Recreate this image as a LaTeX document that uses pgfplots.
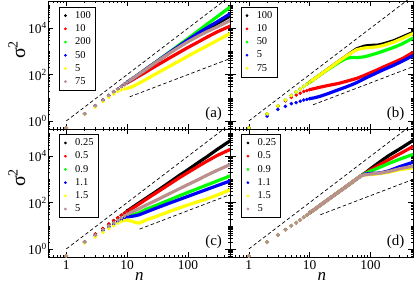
\documentclass[border=0pt]{standalone}
\usepackage{pgfplots}
\pgfplotsset{compat=1.18}
\usepackage{pgfplotstable}
\usepackage{fontspec}
\setmainfont{Liberation Serif}
\definecolor{gbrown}{RGB}{188,143,143}
\definecolor{ggreen}{RGB}{0,255,0}
\definecolor{gyellow}{RGB}{255,255,0}
\definecolor{gred}{RGB}{255,0,0}
\definecolor{gblue}{RGB}{0,0,255}

% panel (a)
\pgfplotstableread{
n k100 k10 k200 k50 k5 k75
1 0.5 0.5 0.5 0.5 0.5 0.5
2 2 2 2 2 1.95 2
3 4.5 4.5 4.5 4.5 3.98 4.5
4 8 8 8 8 6.92 8
5 12.5 12.5 12.5 12.5 10.5 12.5
6 18 18 18 18 14.5 18
7 24.0 24.0 24.0 24.0 18.6 24.0
8 30.9 30.9 30.9 30.9 21.9 30.9
9 38.5 37.2 38.5 38.5 24.0 38.5
10 46.8 43.7 46.8 46.8 25.7 46.8
12 64.1 57.5 64.1 64.1 29.5 64.1
15 95.7 81.3 95.7 95.7 39.8 95.7
20 166 125.9 166 166 60.3 162.6
30 349 239.9 357 349 109.6 341
50 885 524.8 948 906 229.1 845
70 1581 871 1816 1656 371.5 1476
100 2944 1479 3622 3155 631 2624
150 5636 2630 7962 6324 1122 4688
200 8730 3981 14160 10020 1660 6934
300 15960 6918 31120 18750 2951 11300
500 34430 12590 84530 43350 6026 22230
}\tabA

% panel (b)
\pgfplotstableread{
n k100 k10 k50 k5 k75
1 0.5 0.5 0.5 0.5 0.5
2 2 2 2 1.62 2
3 4.5 4.5 4.5 3.16 4.5
4 8 7.4 8 4.27 8
5 12.5 10.5 12.5 5.62 12.5
6 18 13.2 18 6.17 18
7 24.0 15.8 24.0 7.08 24.0
8 30.9 18.6 30.9 7.94 30.9
9 38.5 20.4 38.5 8.51 38.5
10 46.8 22.4 46.8 9.12 46.8
12 66.1 25.1 66.1 10.0 66.1
15 100 28.8 100 11.7 100
20 172.2 33.9 166 15.1 172.2
30 369 41.7 331 22.4 369
40 631 51.3 501 29.5 631
50 955 60.3 550 37.2 912
60 1318 69.2 537 45.7 1202
80 1698 93.3 589 67.6 1413
100 1820 120.2 692 89.1 1479
130 1862 162.2 851 123 1585
160 2089 208.9 1023 158.5 1778
240 2884 331.1 1479 251 2512
340 4266 501.2 2188 389 3715
500 6607 912 3802 660.7 5888
}\tabB

% panel (c)
\pgfplotstableread{
n k025 k05 k09 k11 k15 k5
1 0.5 0.5 0.5 0.5 0.5 0.5
2 2.0 2.0 1.95 1.91 1.82 1.95
3 4.37 4.37 3.89 3.72 3.31 3.98
4 7.59 7.59 6.46 6.17 5.25 6.76
5 11.75 11.75 9.33 8.91 7.59 10.0
6 16.6 16.6 12.3 11.75 10.0 13.5
7 22.4 22.4 15.5 14.8 12.6 17.4
8 28.8 28.2 19.1 17.8 14.8 21.9
9 35.5 34.7 22.9 21.4 16.6 26.3
10 43.7 41.7 26.9 24.0 17.4 31.6
12 60.3 55.0 29.5 25.7 15.8 39.8
14 79.4 70.8 33.1 27.5 13.5 47.9
16 100 89.1 37.2 30.2 13.2 56.2
20 147.9 131.8 50.1 38.0 17.4 75.9
25 218.8 195 63.1 47.9 21.4 100
30 302 263 75.9 57.5 25.1 125.9
50 758.6 631 131.8 95.5 41.7 245.5
70 1413 1122 190.5 131.8 57.5 380.2
100 2630 1995 275.4 186.2 79.4 602.6
150 5495 3802 416.9 275.4 112.2 1000
200 9120 5888 562.3 363.1 141.3 1479
300 19500 10720 851.1 537 208.9 2455
500 47860 19950 1445 871 363.1 4467
}\tabC

% panel (d)
\pgfplotstableread{
n k025 k05 k09 k11 k15 k5
1 0.5 0.5 0.5 0.5 0.5 0.5
2 1.95 1.95 1.95 1.95 1.95 1.95
3 4.07 4.07 4.07 4.07 4.07 4.07
4 6.76 6.76 6.76 6.76 6.76 6.76
5 10 10 10 10 10 10
6 13.5 13.5 13.5 13.5 13.5 13.5
7 17.8 17.8 17.8 17.8 17.8 17.8
8 23.4 23.4 23.4 23.4 23.4 23.4
9 29.5 29.5 29.5 29.5 29.5 29.5
10 36.3 36.3 36.3 36.3 36.3 36.3
12 50.1 50.1 50.1 50.1 50.1 50.1
15 77.6 77.6 77.6 77.6 77.6 77.6
20 134.9 134.9 134.9 134.9 134.9 134.9
30 288.4 288.4 288.4 288.4 288.4 288.4
50 758.6 758.6 758.6 758.6 758.6 758.6
70 1445 1445 1445 1445 1445 1445
85 2042 1950 1862 1738 1585 1622
100 2884 2570 2291 1820 1622 1698
130 4786 3802 3020 1862 1738 1820
150 6310 4677 3548 1950 1820 1905
200 10720 7079 4898 2344 2042 2188
300 20420 12590 7413 3548 2630 2884
500 47860 26300 12020 5495 3162 3715
}\tabD

\pgfplotsset{
  width=182.5bp, height=128bp, scale only axis,
  xmin=0.5, xmax=500, ymin=0.45, ymax=1.5e5,
  tick align=inside, major tick length=5bp, minor tick length=2.5bp,
  every tick/.style={black, line width=0.5pt},
  axis line style={line width=0.8pt},
  tick label style={font=\fontsize{13.5}{14}\selectfont},
  yticklabel style={inner xsep=1pt},
  legend cell align=left,
  legend style={anchor=north west, draw=black, line width=0.5pt,
    font=\fontsize{10.5}{11}\selectfont, nodes={inner ysep=2.4pt, inner xsep=1.5pt}},
  legend image code/.code={\draw[#1, mark size=1.1pt] plot coordinates {(0bp,0bp)}; \path (-3bp,0bp) (8bp,0bp);},
  dots/.style={only marks, mark=*, mark size=1.6pt, skip coords between index={10}{1000}},
  tline/.style={no marks, line width=3.2pt, line join=round, line cap=round, forget plot, skip coords between index={0}{9}},
  dsh/.style={black, line width=0.7pt, dash pattern=on 3.5bp off 2.5bp, forget plot},
}
\newcommand{\series}[4]{%
 \addplot[dots, color=#3] table[x=n,y=#2]{#1}; \addlegendentry{#4}
 \addplot[tline, color=#3] table[x=n,y=#2]{#1};
}
\newcommand{\plab}[1]{\node[anchor=east, font=\fontsize{15}{15}\selectfont] at (rel axis cs:0.972,0.115) {#1};}

\begin{document}
\begin{tikzpicture}
% (a)
\begin{axis}[xmode=log, ymode=log,
  xtick={1,10,100}, ytick={1,100,10000},
  minor xtick={0.5,0.6,0.7,0.8,0.9,2,3,4,5,6,7,8,9,20,30,40,50,60,70,80,90,200,300,400,500},
  minor ytick={0.5,0.6,0.7,0.8,0.9,2,3,4,5,6,7,8,9,10,20,30,40,50,60,70,80,90,200,300,400,500,600,700,800,900,1000,2000,3000,4000,5000,6000,7000,8000,9000,20000,30000,40000,50000,60000,70000,80000,90000,100000},
  at={(0bp,128bp)}, anchor=south west,
  xticklabels={},
  yticklabels={10\textsuperscript{0},10\textsuperscript{2},10\textsuperscript{4}},
  ylabel={\fontsize{20}{20}\selectfont σ\textsuperscript{2}},
  ylabel style={at={(axis description cs:-0.17,0.62)}, anchor=center},
  legend style={at={(0.06,0.955)}}]
\addplot[dsh] coordinates {(1,1) (500,250000)};
\addplot[dsh] coordinates {(11,11) (500,500)};
\series{\tabA}{k100}{black}{100}
\series{\tabA}{k10}{gred}{10}
\series{\tabA}{k200}{ggreen}{200}
\series{\tabA}{k50}{gblue}{50}
\series{\tabA}{k5}{gyellow}{5}
\series{\tabA}{k75}{gbrown}{75}
\plab{(a)}
\end{axis}
% (b)
\begin{axis}[xmode=log, ymode=log,
  xtick={1,10,100}, ytick={1,100,10000},
  minor xtick={0.5,0.6,0.7,0.8,0.9,2,3,4,5,6,7,8,9,20,30,40,50,60,70,80,90,200,300,400,500},
  minor ytick={0.5,0.6,0.7,0.8,0.9,2,3,4,5,6,7,8,9,10,20,30,40,50,60,70,80,90,200,300,400,500,600,700,800,900,1000,2000,3000,4000,5000,6000,7000,8000,9000,20000,30000,40000,50000,60000,70000,80000,90000,100000},
  at={(182.5bp,128bp)}, anchor=south west,
  xticklabels={}, yticklabels={},
  legend style={at={(0.055,0.955)}}]
\addplot[dsh] coordinates {(1,1) (500,250000)};
\addplot[dsh] coordinates {(11.4,5.0) (500,220)};
\series{\tabB}{k100}{black}{100}
\series{\tabB}{k10}{gred}{10}
\series{\tabB}{k50}{ggreen}{50}
\series{\tabB}{k5}{gblue}{5}
\series{\tabB}{k75}{gyellow}{75}
\plab{(b)}
\end{axis}
% (c)
\begin{axis}[xmode=log, ymode=log,
  xtick={1,10,100}, ytick={1,100,10000},
  minor xtick={0.5,0.6,0.7,0.8,0.9,2,3,4,5,6,7,8,9,20,30,40,50,60,70,80,90,200,300,400,500},
  minor ytick={0.5,0.6,0.7,0.8,0.9,2,3,4,5,6,7,8,9,10,20,30,40,50,60,70,80,90,200,300,400,500,600,700,800,900,1000,2000,3000,4000,5000,6000,7000,8000,9000,20000,30000,40000,50000,60000,70000,80000,90000,100000},
  at={(0bp,0bp)}, anchor=south west,
  yticklabels={10\textsuperscript{0},10\textsuperscript{2},10\textsuperscript{4}},
  xticklabels={1,10,100},
  ylabel={\fontsize{20}{20}\selectfont σ\textsuperscript{2}},
  ylabel style={at={(axis description cs:-0.17,0.62)}, anchor=center},
  xlabel={\fontsize{17}{17}\selectfont\itshape n},
  xlabel style={at={(axis description cs:0.5,0)}, yshift=-23bp, anchor=base},
  legend style={at={(0.06,0.96)}}]
\addplot[dsh] coordinates {(1,1) (500,250000)};
\addplot[dsh] coordinates {(16,7.2) (500,225)};
\series{\tabC}{k025}{black}{0.25}
\series{\tabC}{k05}{gred}{0.5}
\series{\tabC}{k09}{ggreen}{0.9}
\series{\tabC}{k11}{gblue}{1.1}
\series{\tabC}{k15}{gyellow}{1.5}
\series{\tabC}{k5}{gbrown}{5}
\plab{(c)}
\end{axis}
% (d)
\begin{axis}[xmode=log, ymode=log,
  xtick={1,10,100}, ytick={1,100,10000},
  minor xtick={0.5,0.6,0.7,0.8,0.9,2,3,4,5,6,7,8,9,20,30,40,50,60,70,80,90,200,300,400,500},
  minor ytick={0.5,0.6,0.7,0.8,0.9,2,3,4,5,6,7,8,9,10,20,30,40,50,60,70,80,90,200,300,400,500,600,700,800,900,1000,2000,3000,4000,5000,6000,7000,8000,9000,20000,30000,40000,50000,60000,70000,80000,90000,100000},
  at={(182.5bp,0bp)}, anchor=south west,
  xticklabels={1,10,100}, yticklabels={},
  xlabel={\fontsize{17}{17}\selectfont\itshape n},
  xlabel style={at={(axis description cs:0.5,0)}, yshift=-23bp, anchor=base},
  legend style={at={(0.06,0.96)}}]
\addplot[dsh] coordinates {(1,1) (500,250000)};
\addplot[dsh] coordinates {(15,30) (500,1000)};
\series{\tabD}{k025}{black}{0.25}
\series{\tabD}{k05}{gred}{0.5}
\series{\tabD}{k09}{ggreen}{0.9}
\series{\tabD}{k11}{gblue}{1.1}
\series{\tabD}{k15}{gyellow}{1.5}
\series{\tabD}{k5}{gbrown}{5}
\plab{(d)}
\end{axis}
\pgfresetboundingbox
\path[use as bounding box] (-48bp,-28bp) rectangle (367bp,257bp);
\end{tikzpicture}
\end{document}
